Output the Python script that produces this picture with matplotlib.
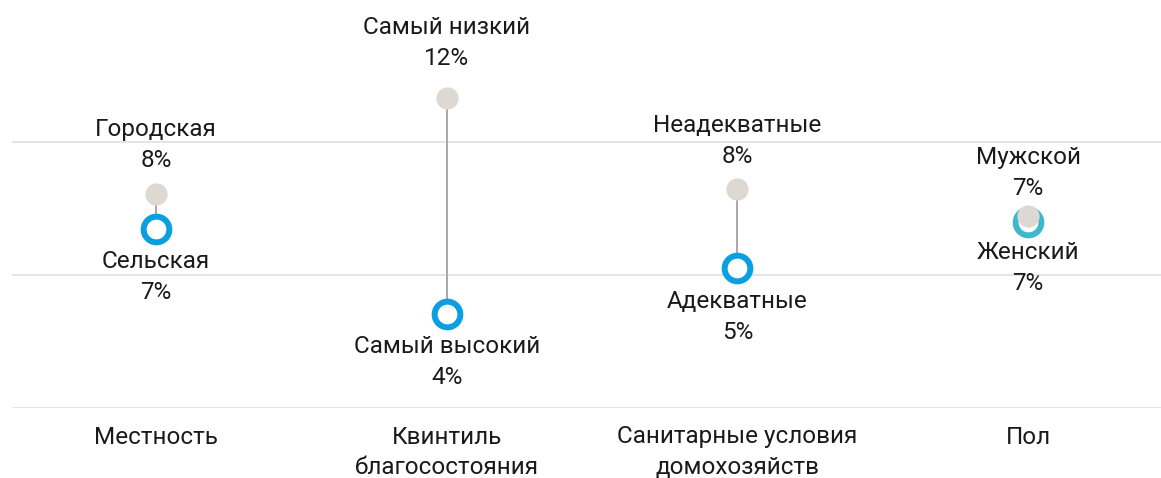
import matplotlib
matplotlib.use("Agg")
from matplotlib import pyplot as plt

# data
categories = ["Местность", "Квинтиль\nблагосостояния", "Санитарные условия\nдомохозяйств", "Пол"]
high_names = ["Городская", "Самый низкий", "Неадекватные", "Мужской"]
high_values = [8.05, 11.66, 8.23, 7.22]
high_labels = ["8%", "12%", "8%", "7%"]
low_names = ["Сельская", "Самый высокий", "Адекватные", "Женский"]
low_values = [6.73, 3.55, 5.26, 6.99]
low_labels = ["7%", "4%", "5%", "7%"]
grid_values = [0, 5, 10]

GREY = "#DDD8D2"
BLUE = "#0A9FE0"
TEAL = "#3FB8CC"
LINE = "#A8A8A8"
TEXT = "#1A1A1A"
FS = 17.5

plt.rcParams["font.family"] = ["Roboto", "DejaVu Sans"]

fig = plt.figure(figsize=(11.61, 4.78), dpi=100)
ax = fig.add_axes([12 / 1161, 70 / 478, 1149 / 1161, 408 / 478])
ax.set_xlim(-0.495, 3.457)
ax.set_ylim(0, 408 / 26.6)
ax.axis("off")

PX = 0.72  # points per pixel at 100 dpi


def label(x, y, txt, dy_px):
    ax.annotate(txt, (x, y), xytext=(0, -dy_px * PX), textcoords="offset points",
                ha="center", va="center", fontsize=FS, color=TEXT,
                annotation_clip=False)


for g in grid_values:
    ax.axhline(g, color="#E2E2E2", linewidth=1.3, zorder=0)

for i in range(len(categories)):
    hi, lo = high_values[i], low_values[i]
    ring = TEAL if i == 3 else BLUE
    ax.plot([i, i], [lo, hi], color=LINE, linewidth=1.4, zorder=1)
    ax.plot(i, lo, "o", markersize=18.5, markerfacecolor="white",
            markeredgecolor=ring, markeredgewidth=4.3, zorder=2)
    ax.plot(i, hi, "o", markersize=16, markerfacecolor=GREY,
            markeredgewidth=0, zorder=3)

    top_shift = 39 if i == 1 else (27 if i == 3 else 33)
    bot_shift = 30 if i == 3 else 33
    label(i, hi, high_labels[i], -top_shift)
    label(i, hi, high_names[i], -(top_shift + 31))
    label(i, lo, low_names[i], bot_shift)
    label(i, lo, low_labels[i], bot_shift + 31)

    for k, line in enumerate(categories[i].split("\n")):
        label(i, 0, line, 29 + 31 * k)

fig.savefig("out.png", dpi=100)
